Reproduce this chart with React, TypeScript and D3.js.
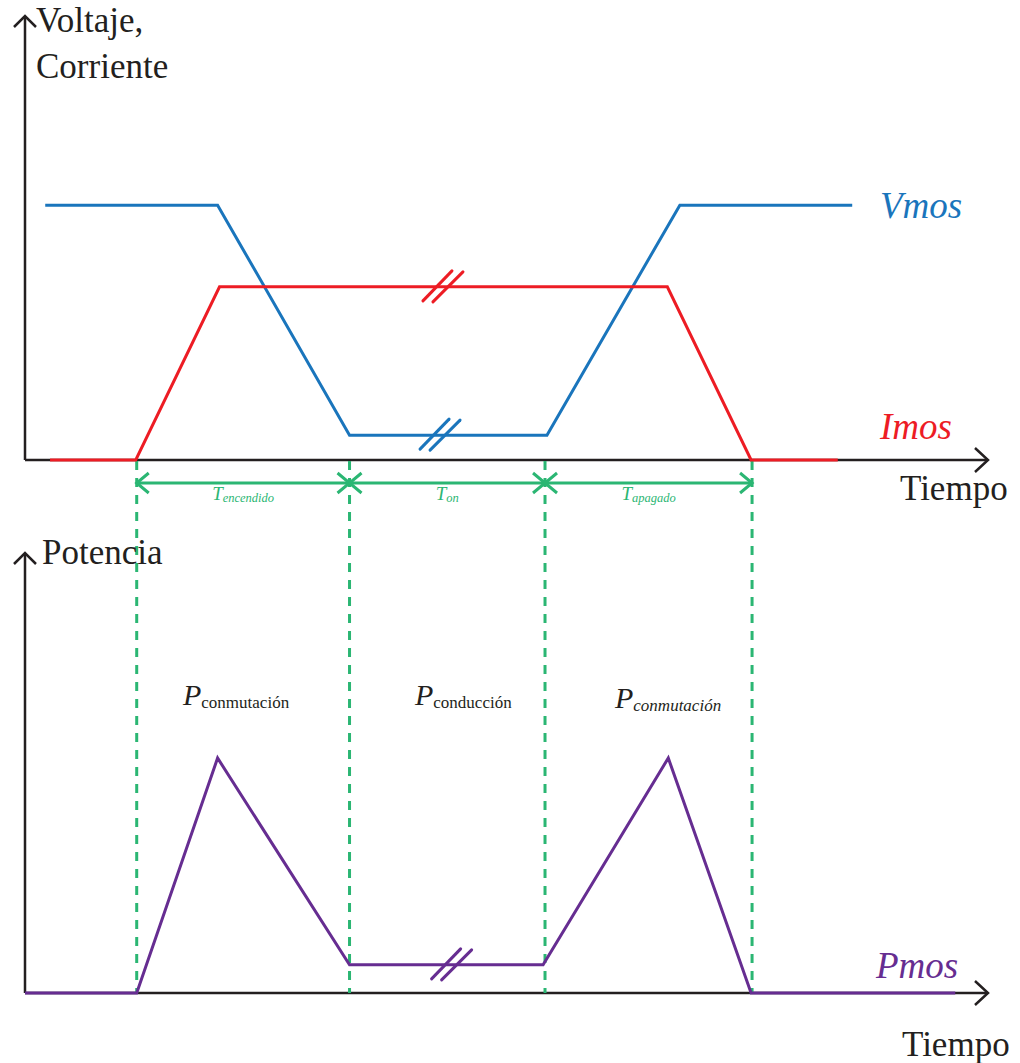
import React from "react";
import * as d3 from "d3";

// ---- data (time in arbitrary units 0..100, amplitudes in % of axis) ----
const imosT = [2.6, 11.5, 20.2, 66.7, 75.4, 84.4];
const imosV = [0, 0, 39, 39, 0, 0];
const vmosT = [2.1, 20, 33.7, 54.2, 68, 85.9];
const vmosV = [57.4, 57.4, 5.6, 5.6, 57.4, 57.4];
const pmosT = [0, 11.6, 20, 33.7, 53.8, 66.8, 75.4, 96.6];
const pmosV = [0, 0, 53.4, 6.4, 6.4, 53.4, 0, 0];
const phaseBounds = [11.6, 33.7, 54.0, 75.5];
const phaseLabels = [
  { main: "T", sub: "encendido" },
  { main: "T", sub: "on" },
  { main: "T", sub: "apagado" },
];
const powerLabels = [
  { main: "P", sub: "conmutación", subItalic: false },
  { main: "P", sub: "conducción", subItalic: false },
  { main: "P", sub: "conmutación", subItalic: true },
];
const breaks = [
  { series: "imos", t: 43.4, v: 39 },
  { series: "vmos", t: 43.1, v: 5.6 },
  { series: "pmos", t: 44.3, v: 6.4 },
];

const C = {
  axis: "#231f20",
  blue: "#1a75bc",
  red: "#ed1c24",
  purple: "#662d91",
  green: "#2bb673",
};
const SERIF = "Liberation Serif, DejaVu Serif, serif";

export default function App() {
  const W = 1020, H = 1063;
  const x = d3.scaleLinear().domain([0, 100]).range([25, 988]);
  const yTop = d3.scaleLinear().domain([0, 100]).range([460, 16]);
  const yBot = d3.scaleLinear().domain([0, 100]).range([993, 553]);

  const mk = (ts: number[], vs: number[], y: d3.ScaleLinear<number, number>) =>
    d3.line<number>().x((_, i) => x(ts[i])).y((v) => y(v))(vs) as string;

  const seriesColor: Record<string, string> = { imos: C.red, vmos: C.blue, pmos: C.purple };
  const seriesY: Record<string, d3.ScaleLinear<number, number>> = { imos: yTop, vmos: yTop, pmos: yBot };

  const upArrow = (cx: number, tipY: number) =>
    `M${cx - 11},${tipY + 11} L${cx},${tipY} L${cx + 11},${tipY + 11}`;
  const rightArrow = (tipX: number, cy: number) =>
    `M${tipX - 13},${cy - 12} L${tipX},${cy} L${tipX - 13},${cy + 12}`;

  const arrowY = 483;
  const x0 = x(0), x100 = x(100);
  const labelX = [183, 415, 615];

  return (
    <svg width={W} height={H} viewBox={`0 0 ${W} ${H}`} style={{ position: "absolute", left: 0, top: 0, background: "#fff", fontFamily: SERIF }}>
      <rect width={W} height={H} fill="#fff" />
      <g stroke={C.axis} strokeWidth={2.5} fill="none">
        <line x1={x0} y1={yTop(0)} x2={x0} y2={yTop(100)} />
        <line x1={x0} y1={yTop(0)} x2={x100} y2={yTop(0)} />
        <path d={upArrow(x0, yTop(100))} />
        <path d={rightArrow(x100, yTop(0))} />
        <line x1={x0} y1={yBot(0)} x2={x0} y2={yBot(100)} />
        <line x1={x0} y1={yBot(0)} x2={x100} y2={yBot(0)} />
        <path d={upArrow(x0, yBot(100))} />
        <path d={rightArrow(x100, yBot(0))} />
      </g>

      <g stroke={C.green} strokeWidth={3} strokeDasharray="9 8">
        {phaseBounds.map((t, i) => (
          <line key={i} x1={x(t)} x2={x(t)} y1={yTop(0) + 1} y2={yBot(0)} />
        ))}
      </g>

      <g fill="none" strokeWidth={3} strokeLinejoin="miter">
        <path d={mk(vmosT, vmosV, yTop)} stroke={C.blue} />
        <path d={mk(imosT, imosV, yTop)} stroke={C.red} />
        <path d={mk(pmosT, pmosV, yBot)} stroke={C.purple} />
      </g>

      {breaks.map((b, i) => {
        const cx = x(b.t), cy = seriesY[b.series](b.v);
        return (
          <g key={i} stroke={seriesColor[b.series]} strokeWidth={3} strokeLinecap="round">
            <line x1={cx - 20} y1={cy + 14} x2={cx + 9} y2={cy - 16} />
            <line x1={cx - 10} y1={cy + 15} x2={cx + 20} y2={cy - 15} />
          </g>
        );
      })}

      <g stroke={C.green} strokeWidth={3} fill="none">
        {phaseBounds.slice(0, -1).map((t, i) => {
          const a = x(t), b = x(phaseBounds[i + 1]);
          return (
            <g key={i}>
              <line x1={a} y1={arrowY} x2={b} y2={arrowY} />
              <path d={`M${a + 12},${arrowY - 10} L${a},${arrowY} L${a + 12},${arrowY + 10}`} />
              <path d={`M${b - 12},${arrowY - 10} L${b},${arrowY} L${b - 12},${arrowY + 10}`} />
            </g>
          );
        })}
      </g>
      {phaseLabels.map((l, i) => {
        const mid = (x(phaseBounds[i]) + x(phaseBounds[i + 1])) / 2;
        return (
          <text key={i} x={mid} y={500} textAnchor="middle" fill={C.green} fontFamily={SERIF} fontStyle="italic">
            <tspan fontSize={19}>{l.main}</tspan>
            <tspan fontSize={12.5} dy={2}>{l.sub}</tspan>
          </text>
        );
      })}

      {powerLabels.map((l, i) => (
        <text key={i} x={labelX[i]} y={705 + (i === 2 ? 3 : 0)} fill={C.axis} fontFamily={SERIF}>
          <tspan fontSize={30} fontStyle="italic">{l.main}</tspan>
          <tspan fontSize={17} dy={3} fontStyle={l.subItalic ? "italic" : "normal"}>{l.sub}</tspan>
        </text>
      ))}

      <g fill={C.axis} fontFamily={SERIF} fontSize={35}>
        <text x={36} y={32}>Voltaje,</text>
        <text x={36} y={78}>Corriente</text>
        <text x={900} y={500}>Tiempo</text>
        <text x={42} y={564}>Potencia</text>
        <text x={902} y={1056}>Tiempo</text>
      </g>
      <g fontFamily={SERIF} fontSize={37} fontStyle="italic">
        <text x={880} y={218} fill={C.blue}>Vmos</text>
        <text x={880} y={439} fill={C.red}>Imos</text>
        <text x={876} y={978} fill={C.purple}>Pmos</text>
      </g>
    </svg>
  );
}
